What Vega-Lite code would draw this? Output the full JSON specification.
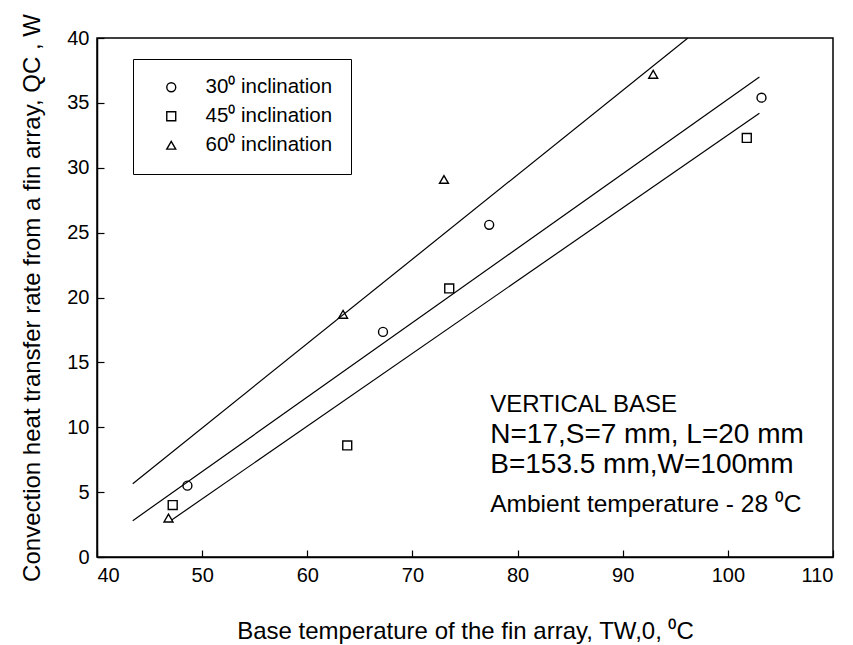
{
  "$schema": "https://vega.github.io/schema/vega-lite/v6.json",
  "width": 736,
  "height": 519,
  "autosize": {"type": "none"},
  "padding": {"left": 97, "top": 38, "right": 20, "bottom": 88},
  "background": "white",
  "config": {
    "font": "Liberation Sans",
    "view": {"stroke": "black", "strokeWidth": 1.5},
    "axis": {
      "domainColor": "black", "domainWidth": 1.5,
      "tickColor": "black", "tickWidth": 1.2, "tickSize": -7,
      "labelColor": "black", "labelFontSize": 20, "labelFont": "Liberation Sans", "labelPadding": 15,
      "titleColor": "black", "titleFont": "Liberation Sans", "titleFontSize": 24, "titleFontWeight": "normal",
      "grid": false
    }
  },
  "datasets": {
    "points": [
      {"series": "30⁰ inclination", "T": 48.6, "Q": 5.5},
      {"series": "30⁰ inclination", "T": 67.2, "Q": 17.35},
      {"series": "30⁰ inclination", "T": 77.3, "Q": 25.6},
      {"series": "30⁰ inclination", "T": 103.2, "Q": 35.4},
      {"series": "45⁰ inclination", "T": 47.2, "Q": 4.0},
      {"series": "45⁰ inclination", "T": 63.8, "Q": 8.6},
      {"series": "45⁰ inclination", "T": 73.5, "Q": 20.7},
      {"series": "45⁰ inclination", "T": 101.8, "Q": 32.3},
      {"series": "60⁰ inclination", "T": 46.8, "Q": 3.0},
      {"series": "60⁰ inclination", "T": 63.4, "Q": 18.7},
      {"series": "60⁰ inclination", "T": 73.0, "Q": 29.1},
      {"series": "60⁰ inclination", "T": 92.9, "Q": 37.2}
    ],
    "fits": [
      {"fit": "upper", "T": 43.4, "Q": 5.65},
      {"fit": "upper", "T": 96.2, "Q": 40.0},
      {"fit": "middle", "T": 43.4, "Q": 2.8},
      {"fit": "middle", "T": 103.0, "Q": 37.0},
      {"fit": "lower", "T": 47.1, "Q": 2.85},
      {"fit": "lower", "T": 103.0, "Q": 34.2}
    ],
    "notes": [
      {"line": "VERTICAL BASE", "T": 77.4, "Q": 11.7},
      {"line": "N=17,S=7 mm, L=20 mm", "T": 77.4, "Q": 9.4},
      {"line": "B=153.5 mm,W=100mm", "T": 77.4, "Q": 7.1},
      {"line": "Ambient temperature - 28 ⁰C", "T": 77.4, "Q": 4.0}
    ]
  },
  "layer": [
    {
      "data": {"name": "fits"},
      "mark": {"type": "line", "color": "black", "strokeWidth": 1.2, "clip": true},
      "encoding": {
        "x": {"field": "T", "type": "quantitative", "scale": {"domain": [40, 110], "nice": false},
              "axis": {"values": [40, 50, 60, 70, 80, 90, 100, 110], "title": "Base temperature of the fin array, TW,0, ⁰C", "titlePadding": 34}},
        "y": {"field": "Q", "type": "quantitative", "scale": {"domain": [0, 40], "nice": false},
              "axis": {"values": [0, 5, 10, 15, 20, 25, 30, 35, 40], "title": "Convection heat transfer rate from a fin array, QC , W", "titlePadding": 22}},
        "detail": {"field": "fit", "type": "nominal"}
      }
    },
    {
      "data": {"name": "points"},
      "mark": {"type": "point", "filled": false, "color": "black", "strokeWidth": 1.4, "size": 80, "opacity": 1},
      "encoding": {
        "x": {"field": "T", "type": "quantitative", "scale": {"domain": [40, 110], "nice": false}},
        "y": {"field": "Q", "type": "quantitative", "scale": {"domain": [0, 40], "nice": false}},
        "shape": {
          "field": "series", "type": "nominal",
          "scale": {"domain": ["30⁰ inclination", "45⁰ inclination", "60⁰ inclination"], "range": ["circle", "square", "triangle-up"]},
          "legend": {
            "title": null, "orient": "none", "legendX": 36, "legendY": 21,
            "strokeColor": "black", "padding": 18, "symbolOffset": 10,
            "labelFontSize": 20.5, "labelFont": "Liberation Sans", "labelColor": "black", "labelOffset": 24,
            "symbolSize": 80, "symbolStrokeColor": "black", "symbolStrokeWidth": 1.4, "symbolFillColor": "transparent",
            "rowPadding": 8
          }
        }
      }
    },
    {
      "data": {"name": "notes"},
      "transform": [{"filter": "datum.line == 'VERTICAL BASE'"}],
      "mark": {"type": "text", "fontSize": 24, "align": "left", "baseline": "middle", "color": "black"},
      "encoding": {"x": {"field": "T", "type": "quantitative"}, "y": {"field": "Q", "type": "quantitative"}, "text": {"field": "line"}}
    },
    {
      "data": {"name": "notes"},
      "transform": [{"filter": "datum.line == 'N=17,S=7 mm, L=20 mm' || datum.line == 'B=153.5 mm,W=100mm'"}],
      "mark": {"type": "text", "fontSize": 28, "align": "left", "baseline": "middle", "color": "black"},
      "encoding": {"x": {"field": "T", "type": "quantitative"}, "y": {"field": "Q", "type": "quantitative"}, "text": {"field": "line"}}
    },
    {
      "data": {"name": "notes"},
      "transform": [{"filter": "indexof(datum.line, 'Ambient') == 0"}],
      "mark": {"type": "text", "fontSize": 24.5, "align": "left", "baseline": "middle", "color": "black"},
      "encoding": {"x": {"field": "T", "type": "quantitative"}, "y": {"field": "Q", "type": "quantitative"}, "text": {"field": "line"}}
    }
  ]
}
